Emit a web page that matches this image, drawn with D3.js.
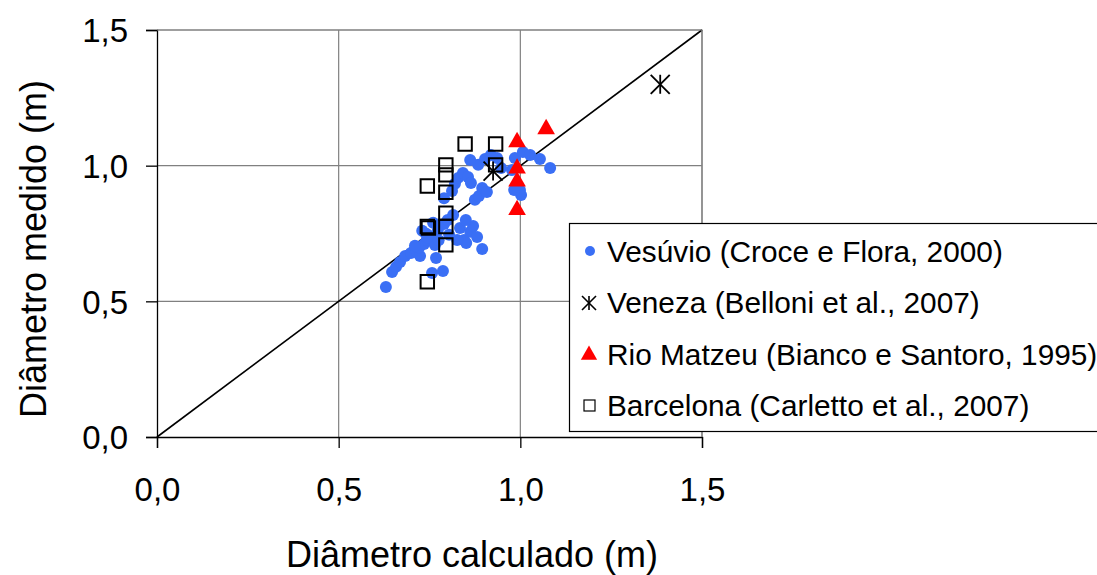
<!DOCTYPE html>
<html>
<head>
<meta charset="utf-8">
<script src="https://cdn.jsdelivr.net/npm/d3@7"></script>
<style>
  html, body { margin: 0; padding: 0; background: #fff; }
  svg { display: block; font-family: "Liberation Sans", Arial, sans-serif; }
</style>
</head>
<body>
<svg id="chart" width="1097" height="575"></svg>
<script>
// Diâmetro calculado (x) vs. diâmetro medido (y), em metros
const vesuvioX = [0.630, 0.647, 0.658, 0.669, 0.683, 0.699, 0.713, 0.724, 0.721, 0.735, 0.743, 0.751,
  0.757, 0.787, 0.768, 0.765, 0.773, 0.790, 0.804, 0.815, 0.834, 0.845, 0.862, 0.870, 0.881, 0.895,
  0.851, 0.826, 0.812, 0.820, 0.829, 0.842, 0.856, 0.864, 0.875, 0.886, 0.895, 0.908, 0.884, 0.903,
  0.919, 0.936, 0.862, 0.985, 1.007, 1.027, 1.054, 1.082, 0.977, 0.999, 1.002, 0.983, 0.947, 0.730,
  0.740, 0.760, 0.800, 0.790, 0.850, 0.745, 0.775, 0.710];
const vesuvioY = [0.553, 0.608, 0.627, 0.645, 0.667, 0.678, 0.686, 0.667, 0.697, 0.711, 0.726, 0.741,
  0.604, 0.612, 0.660, 0.708, 0.763, 0.785, 0.745, 0.818, 0.770, 0.726, 0.756, 0.778, 0.737, 0.693,
  0.715, 0.726, 0.907, 0.933, 0.955, 0.973, 0.958, 0.936, 0.874, 0.888, 0.918, 0.903, 1.003, 1.025,
  1.039, 1.028, 1.021, 1.028, 1.050, 1.039, 1.025, 0.991, 0.984, 0.910, 0.892, 0.910, 0.991, 0.760,
  0.750, 0.790, 0.800, 0.880, 0.800, 0.735, 0.725, 0.705];

const venezaX = [0.925, 1.385];
const venezaY = [0.980, 1.300];

const matzeuX = [0.991, 1.071, 0.991, 0.991, 0.991];
const matzeuY = [1.087, 1.135, 0.990, 0.942, 0.837];

const barcelonaX = [0.848, 0.932, 0.932, 0.795, 0.795, 0.744, 0.795, 0.795, 0.744, 0.747, 0.795, 0.795, 0.744];
const barcelonaY = [1.080, 1.080, 1.003, 1.003, 0.966, 0.925, 0.902, 0.825, 0.776, 0.770, 0.776, 0.708, 0.572];

const tickValues = [0, 0.5, 1.0, 1.5];
const tickLabels = ["0,0", "0,5", "1,0", "1,5"];

const seriesNames = [
  "Vesúvio (Croce e Flora, 2000)",
  "Veneza (Belloni et al., 2007)",
  "Rio Matzeu (Bianco e Santoro, 1995)",
  "Barcelona (Carletto et al., 2007)"
];

const BLUE = "#3a6ff5";
const RED = "#ff0000";

const svg = d3.select("#chart");
const plotL = 157, plotR = 702, plotT = 30, plotB = 437;

const x = d3.scaleLinear().domain([0, 1.5]).range([plotL, plotR]);
const y = d3.scaleLinear().domain([0, 1.5]).range([plotB, plotT]);

// grid lines
const grid = svg.append("g");
tickValues.filter(v => v > 0).forEach(v => {
  grid.append("line").attr("x1", x(v)).attr("x2", x(v)).attr("y1", plotT).attr("y2", plotB)
    .attr("stroke", "#808080").attr("stroke-width", 1.2);
  grid.append("line").attr("x1", plotL).attr("x2", plotR).attr("y1", y(v)).attr("y2", y(v))
    .attr("stroke", "#808080").attr("stroke-width", 1.2);
});

// axes
const fmt = d => tickLabels[tickValues.indexOf(d)];
const xAxis = svg.append("g").attr("transform", `translate(0,${plotB})`)
  .call(d3.axisBottom(x).tickValues(tickValues).tickFormat(fmt).tickSize(11).tickPadding(30));
const yAxis = svg.append("g").attr("transform", `translate(${plotL},0)`)
  .call(d3.axisLeft(y).tickValues(tickValues).tickFormat(fmt).tickSize(11).tickPadding(18));
[xAxis, yAxis].forEach(g => {
  g.select(".domain").attr("stroke", "#000").attr("stroke-width", 1.3);
  g.selectAll(".tick line").attr("stroke", "#000").attr("stroke-width", 1.3);
  g.selectAll(".tick text").attr("font-size", 33).attr("fill", "#000")
    .attr("font-family", "Liberation Sans, Arial, sans-serif");
});
yAxis.selectAll(".tick text").attr("dy", "0.36em");

// 1:1 reference line
svg.append("line")
  .attr("x1", x(0)).attr("y1", y(0)).attr("x2", x(1.5)).attr("y2", y(1.5))
  .attr("stroke", "#000").attr("stroke-width", 1.6);

// symbols
const sq = d3.symbol().type(d3.symbolSquare).size(180);
const tri = d3.symbol().type(d3.symbolTriangle).size(135);
const star = (g, cx, cy, r, w) => {
  const p = g.append("g").attr("transform", `translate(${cx},${cy})`);
  [[0, -r, 0, r], [-r, -r, r, r], [-r, r, r, -r]].forEach(c =>
    p.append("line").attr("x1", c[0]).attr("y1", c[1]).attr("x2", c[2]).attr("y2", c[3]));
  p.selectAll("line").attr("stroke", "#000").attr("stroke-width", w);
};

// Vesúvio
svg.append("g").selectAll("circle").data(d3.zip(vesuvioX, vesuvioY)).join("circle")
  .attr("cx", d => x(d[0])).attr("cy", d => y(d[1])).attr("r", 6).attr("fill", BLUE);

// Barcelona
svg.append("g").selectAll("path").data(d3.zip(barcelonaX, barcelonaY)).join("path")
  .attr("d", sq).attr("transform", d => `translate(${x(d[0])},${y(d[1])})`)
  .attr("fill", "none").attr("stroke", "#000").attr("stroke-width", 2);

// Rio Matzeu
svg.append("g").selectAll("path").data(d3.zip(matzeuX, matzeuY)).join("path")
  .attr("d", tri).attr("transform", d => `translate(${x(d[0])},${y(d[1])})`)
  .attr("fill", RED);

// Veneza
const vz = svg.append("g");
d3.zip(venezaX, venezaY).forEach(d => star(vz, x(d[0]), y(d[1]), 9.5, 1.8));

// plot frame (top/right)
svg.append("path").attr("d", `M${plotL},${plotT}H${plotR}V${plotB}`)
  .attr("fill", "none").attr("stroke", "#808080").attr("stroke-width", 1.2);

// axis titles
svg.append("text").attr("x", 472).attr("y", 567).attr("text-anchor", "middle")
  .attr("font-size", 36).text("Diâmetro calculado (m)");
svg.append("text").attr("transform", "translate(46,249) rotate(-90)").attr("text-anchor", "middle")
  .attr("font-size", 36).text("Diâmetro medido (m)");

// legend
const lg = svg.append("g");
lg.append("rect").attr("x", 569.5).attr("y", 223.5).attr("width", 540).attr("height", 208)
  .attr("fill", "#fff").attr("stroke", "#000").attr("stroke-width", 1.2);
const rowY = [251, 302, 354, 405];
seriesNames.forEach((name, i) => {
  const cy = rowY[i];
  if (i === 0) lg.append("circle").attr("cx", 590).attr("cy", cy).attr("r", 5).attr("fill", BLUE);
  if (i === 1) star(lg, 589, cy + 1, 7, 1.6);
  if (i === 2) lg.append("path").attr("d", d3.symbol().type(d3.symbolTriangle).size(115))
    .attr("transform", `translate(589,${cy + 1})`).attr("fill", RED);
  if (i === 3) lg.append("rect").attr("x", 584).attr("y", cy - 5).attr("width", 11).attr("height", 11)
    .attr("fill", "none").attr("stroke", "#000").attr("stroke-width", 1.2);
  lg.append("text").attr("x", 607).attr("y", cy).attr("dy", "0.36em")
    .attr("font-size", 29.8).text(name);
});
</script>
</body>
</html>
